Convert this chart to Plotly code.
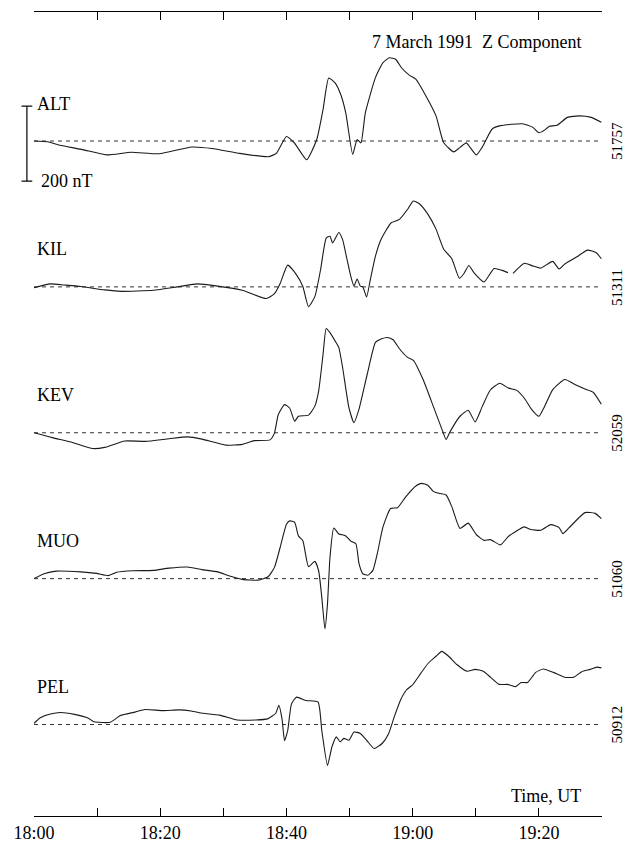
import plotly.graph_objects as go

# minutes after 18:00 UT and Z deviation from the station baseline, nT
ALT_T = [0, 2.2, 3.8, 7.7, 11.5, 15.4, 19.8, 25.0, 28.2, 32.6, 37.1, 38.4, 40.0, 41.3, 43.2, 44.8, 45.8, 46.7,
         47.7, 48.6, 49.4, 50.5, 51.2, 51.8, 52.5, 54.1, 55.3, 56.3, 57.3, 58.2, 59.5, 60.5, 62.1, 63.7, 64.9,
         66.5, 67.5, 68.5, 69.1, 70.1, 71.0, 72.6, 73.9, 77.4, 79.0, 80.0, 80.9, 81.6, 82.9, 84.5, 86.4, 88.3, 89.9]
ALT_Z = [0, -2, -10, -23, -37, -30, -34, -16, -20, -33, -42, -33, 12, -6, -50, 4, 84, 168, 155, 124, 75, -36, 4,
         -5, 75, 169, 209, 222, 218, 196, 175, 165, 120, 67, -4, -29, -17, -5, -17, -37, -17, 32, 41, 46, 37, 22,
         29, 39, 42, 63, 67, 63, 50]

KIL_T = [0, 2.6, 4.8, 7.4, 11.2, 13.8, 18.9, 22.7, 25.9, 29.1, 33.0, 36.8, 38.1, 39.0, 40.2, 41.6, 42.6, 43.5,
         44.5, 45.4, 46.3, 46.9, 47.3, 48.3, 48.9, 49.6, 50.2, 50.7, 51.2, 51.7, 52.1, 52.7, 53.3, 54.1, 55.0,
         56.6, 57.9, 59.2, 60.1, 61.1, 62.4, 63.7, 64.9, 66.2, 67.4, 68.1, 68.9, 69.7, 71.3, 72.9, 74.2, 75.1,
         75.5, 75.9, 77.7, 79.0, 80.3, 81.3, 82.2, 83.2, 84.1, 86.1, 87.7, 89.1, 89.9]
KIL_Z = [-2, 8, 5, 1, -8, -12, -9, 0, 8, 2, -9, -31, -18, 9, 58, 32, 1, -53, -26, 45, 130, 135, 117, 145, 126,
         73, 28, 2, 21, 2, 0, -27, 20, 82, 127, 171, 180, 207, 229, 221, 194, 154, 101, 75, 23, 35, 57, 38, 13,
         49, 44, 38, None, 36, 63, 56, 50, 60, 68, 48, 61, 81, 98, 91, 75]

KEV_T = [0, 2.9, 6.1, 9.3, 11.2, 14.4, 17.6, 21.4, 24.3, 26.6, 30.4, 33.0, 34.9, 37.4, 38.1, 38.7, 39.7, 40.5,
         41.3, 41.9, 43.5, 44.5, 45.1, 45.8, 46.3, 46.9, 47.7, 48.3, 48.9, 49.9, 50.7, 51.5, 52.8, 54.1, 55.0,
         56.0, 56.9, 57.9, 59.2, 60.1, 61.7, 63.3, 64.6, 65.3, 65.9, 67.5, 68.8, 69.9, 71.0, 72.3, 73.8, 75.2,
         76.5, 77.7, 78.9, 80.0, 80.9, 82.2, 84.1, 85.7, 87.3, 88.6, 89.9]
KEV_Z = [0, -13, -26, -42, -39, -22, -23, -16, -11, -17, -33, -31, -21, -19, -1, 48, 75, 66, 31, 44, 47, 71,
         111, 209, 278, 267, 245, 227, 174, 67, 27, 63, 156, 241, 250, 254, 248, 224, 201, 193, 140, 69, 11,
         -18, 2, 44, 60, 29, 69, 114, 132, 119, 113, 92, 61, 44, 70, 115, 142, 129, 117, 108, 76]

MUO_T = [0, 1.6, 3.5, 7.4, 9.9, 11.8, 13.1, 15.7, 18.9, 21.4, 24.3, 26.6, 29.1, 31.0, 33.0, 35.5, 37.1, 38.1,
         39.0, 40.0, 40.5, 41.3, 41.9, 42.6, 43.5, 44.5, 45.1, 45.6, 46.1, 46.5, 46.9, 47.5, 48.3, 49.3, 50.2,
         51.0, 51.5, 52.1, 52.9, 53.7, 54.4, 55.3, 56.5, 57.6, 58.9, 60.5, 61.4, 62.4, 63.3, 64.3, 65.3, 66.2,
         67.5, 68.8, 70.1, 71.3, 72.3, 73.9, 75.2, 77.7, 78.7, 80.3, 81.9, 83.2, 83.8, 84.8, 87.3, 88.9, 89.9]
MUO_Z = [0, 13, 20, 18, 14, 8, 17, 21, 22, 28, 31, 24, 18, 7, -2, -4, 5, 30, 83, 145, 154, 150, 114, 101, 32,
         46, 21, -50, -134, -68, 57, 135, 119, 115, 100, 93, 40, 13, 9, 22, 67, 138, 187, 189, 218, 247, 254,
         249, 232, 227, 223, 192, 134, 148, 117, 102, 104, 90, 113, 138, 131, 129, 144, 136, 120, 136, 176,
         174, 160]

PEL_T = [0, 1.0, 2.6, 4.2, 6.4, 8.6, 9.4, 10.2, 12.1, 13.7, 16.0, 17.6, 20.4, 23.0, 24.9, 26.8, 29.4, 32.2,
         35.1, 37.0, 38.3, 38.8, 39.3, 39.7, 40.2, 40.8, 41.6, 43.1, 45.0, 45.6, 46.5, 47.2, 47.9, 48.5, 49.1,
         49.9, 50.7, 51.7, 52.7, 53.9, 55.2, 56.2, 57.1, 58.1, 59.0, 60.0, 61.3, 62.5, 63.7, 64.6, 65.7, 67.0,
         68.6, 69.9, 71.2, 72.4, 73.7, 75.0, 76.3, 77.2, 78.2, 79.5, 80.7, 82.3, 84.1, 85.5, 86.8, 88.1, 89.2,
         89.9]
PEL_Z = [3, 18, 28, 32, 27, 17, 8, 6, 6, 24, 33, 40, 37, 39, 36, 30, 25, 12, 12, 15, 30, 51, 15, -43, -16, 55,
         73, 64, 60, -16, -109, -60, -33, -46, -37, -42, -20, -24, -42, -64, -50, -24, 21, 66, 92, 106, 137,
         164, 182, 195, 182, 160, 142, 147, 142, 125, 107, 107, 101, 112, 112, 139, 148, 139, 126, 126, 141,
         147, 153, 151]

STATIONS = ["ALT", "KIL", "KEV", "MUO", "PEL"]
BASELINES = ["51757", "51311", "52059", "51060", "50912"]
TIMES = [ALT_T, KIL_T, KEV_T, MUO_T, PEL_T]
VALUES = [ALT_Z, KIL_Z, KEV_Z, MUO_Z, PEL_Z]

TICK_MIN = list(range(0, 91, 10))
TICK_TEXT = ["18:00", "", "18:20", "", "18:40", "", "19:00", "", "19:20", ""]

SCALE_NT = 200
STEP = 389          # vertical spacing between stations, nT
FONT = "Liberation Serif"
INK = "#1a1a1a"

fig = go.Figure()

for i, (name, t, z) in enumerate(zip(STATIONS, TIMES, VALUES)):
    off = -i * STEP
    fig.add_trace(go.Scatter(
        x=[0, 90], y=[off, off], mode="lines",
        line=dict(color="#333", width=1, dash="4px,4px"), hoverinfo="skip"))
    fig.add_trace(go.Scatter(
        x=t, y=[None if v is None else v + off for v in z], mode="lines",
        line=dict(color=INK, width=1.1, shape="spline", smoothing=0.5), name=name))
    fig.add_annotation(x=0.002, xref="paper", y=off + 100, yref="y", text=name, showarrow=False,
                       xanchor="left", yanchor="middle", font=dict(family=FONT, size=18, color="black"))
    fig.add_annotation(x=1.0264, xref="paper", y=off, yref="y", text=BASELINES[i], showarrow=False,
                       textangle=-90, xanchor="center", yanchor="middle",
                       font=dict(family=FONT, size=15, color="black"))

# 200 nT scale bar beside ALT
bar_x, bar_top = -0.0125, 93
cap = 0.0095
line_style = dict(color="black", width=1.2)
fig.add_shape(type="line", xref="paper", yref="y", x0=bar_x, x1=bar_x,
              y0=bar_top, y1=bar_top - SCALE_NT, line=line_style)
for yy in (bar_top, bar_top - SCALE_NT):
    fig.add_shape(type="line", xref="paper", yref="y", x0=bar_x - cap, x1=bar_x + cap,
                  y0=yy, y1=yy, line=line_style)
fig.add_annotation(x=0.009, xref="paper", y=bar_top - SCALE_NT, yref="y", text="%d nT" % SCALE_NT,
                   showarrow=False, xanchor="left", yanchor="middle",
                   font=dict(family=FONT, size=18, color="black"))

fig.add_annotation(x=0.967, xref="paper", y=0.9627, yref="paper",
                   text="7 March 1991\u00a0 Z Component", showarrow=False,
                   xanchor="right", yanchor="middle", font=dict(family=FONT, size=18, color="black"))
fig.add_annotation(x=0.9665, xref="paper", y=0.025, yref="paper", text="Time, UT", showarrow=False,
                   xanchor="right", yanchor="middle", font=dict(family=FONT, size=18, color="black"))

# the page puts the figure 8px in from the top-left corner, so the margins absorb that
fig.update_layout(
    width=632, height=842,
    margin=dict(l=26, r=38, t=4, b=34),
    paper_bgcolor="white", plot_bgcolor="white",
    showlegend=False, hovermode=False,
    font=dict(family=FONT, size=18, color="black"),
    xaxis=dict(range=[0, 90], tickvals=TICK_MIN, ticktext=TICK_TEXT,
               ticks="inside", ticklen=8, tickwidth=1, tickcolor="black",
               showline=True, linecolor="black", linewidth=1.2, mirror="ticks",
               showgrid=False, zeroline=False, automargin=False, fixedrange=True,
               tickfont=dict(family=FONT, size=18, color="black")),
    yaxis=dict(range=[-1800, 344], visible=False, showgrid=False, zeroline=False,
               automargin=False, fixedrange=True),
)

fig.write_html("out.html")
